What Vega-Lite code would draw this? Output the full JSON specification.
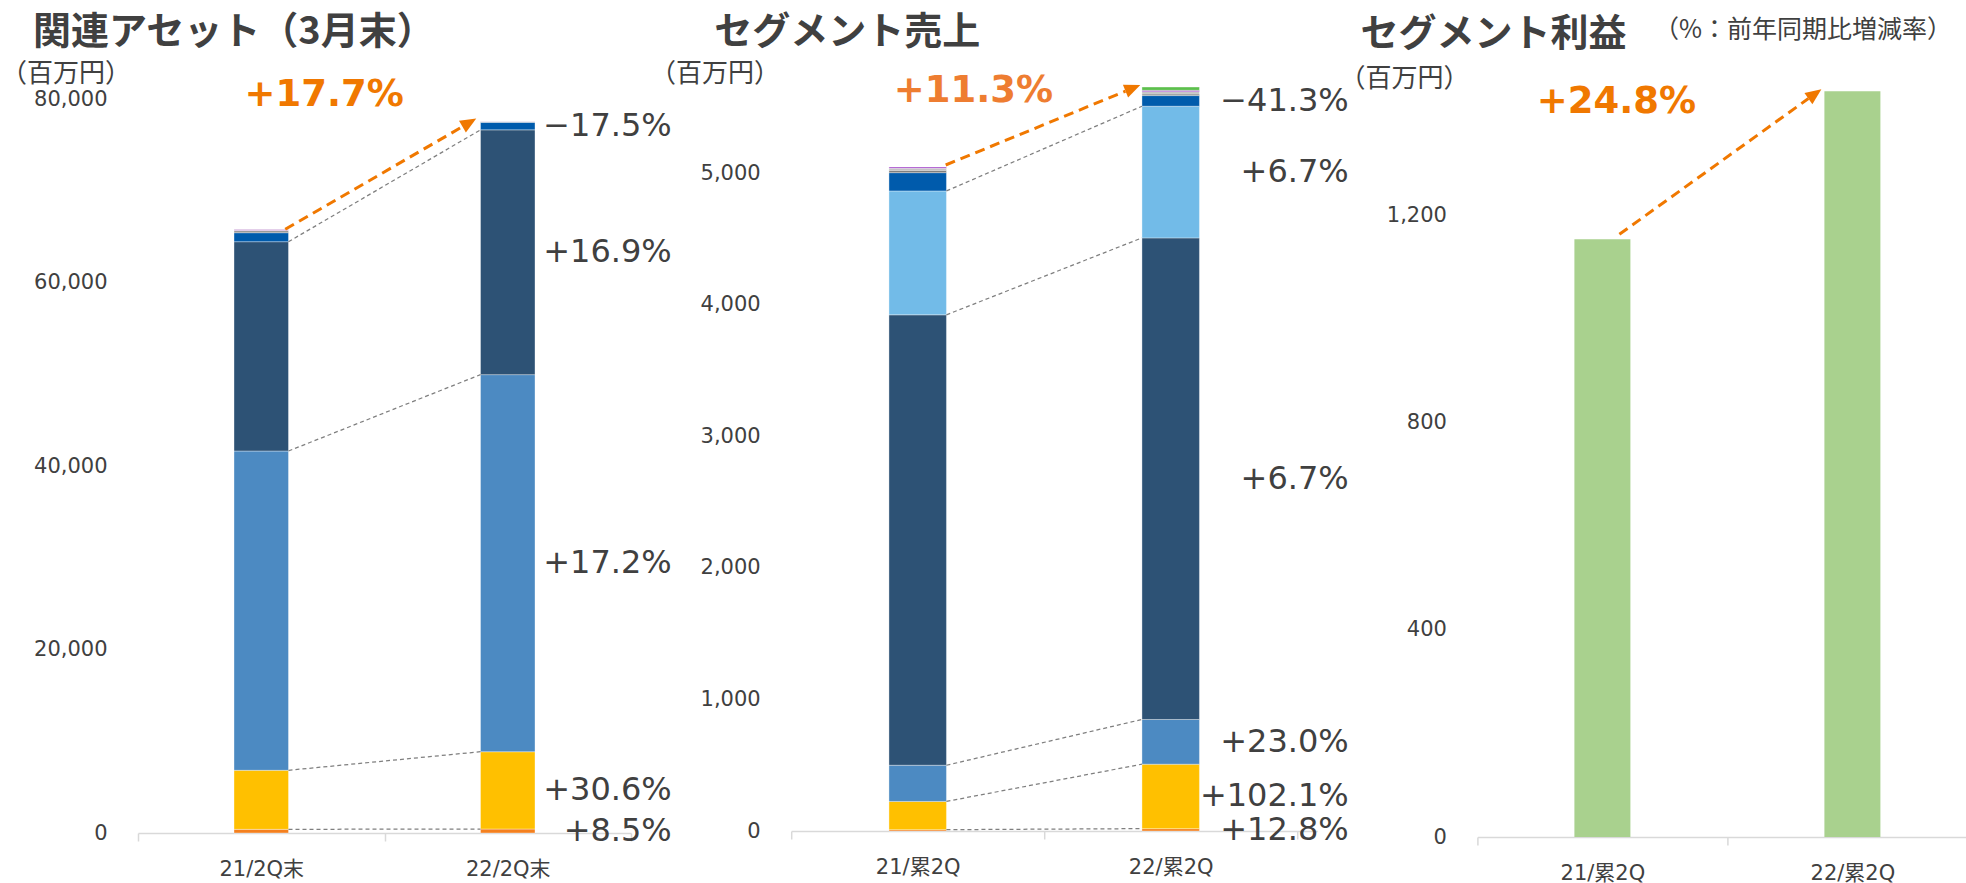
{
  "$schema": "https://vega.github.io/schema/vega-lite/v6.json",
  "background": "white",
  "padding": {"left": 0, "top": 14, "right": 0, "bottom": 0},
  "bounds": "flush",
  "spacing": 160.2,
  "resolve": {"scale": {"color": "independent"}},
  "config": {
    "view": {"stroke": null},
    "font": "Noto Sans CJK JP",
    "title": {"font": "Noto Sans CJK JP", "fontSize": 38, "fontWeight": "bold", "color": "#404040", "anchor": "start", "frame": "group", "offset": 8},
    "axis": {"grid": false, "labelFont": "DejaVu Sans, Noto Sans CJK JP", "labelFontSize": 21, "labelColor": "#404040", "titleFont": "Noto Sans CJK JP", "titleFontWeight": "normal", "titleColor": "#404040", "titleFontSize": 26},
    "axisX": {"domainColor": "#D9D9D9", "domainWidth": 1.5, "tickColor": "#D9D9D9", "tickWidth": 1.5, "tickSize": 8, "tickBand": "extent", "labelAngle": 0, "labelPadding": 17},
    "axisY": {"domain": false, "ticks": false, "labelPadding": 31, "titleAngle": 0, "titleAlign": "left", "titleBaseline": "middle"}
  },
  "hconcat": [
    {
      "width": 493,
      "height": 772,
      "title": {"text": "関連アセット（3月末）", "dx": -105},
      "data": {"values": [
        {"period": "21/2Q末", "segment": "seg01", "value": 400},
        {"period": "21/2Q末", "segment": "seg02", "value": 6434},
        {"period": "21/2Q末", "segment": "seg03", "value": 34801},
        {"period": "21/2Q末", "segment": "seg04", "value": 22812},
        {"period": "21/2Q末", "segment": "seg05", "value": 980},
        {"period": "21/2Q末", "segment": "seg06", "value": 220},
        {"period": "21/2Q末", "segment": "seg07", "value": 150},
        {"period": "22/2Q末", "segment": "seg01", "value": 434, "change": "+8.5%", "total_change": "+17.7%"},
        {"period": "22/2Q末", "segment": "seg02", "value": 8424, "change": "+30.6%"},
        {"period": "22/2Q末", "segment": "seg03", "value": 41100, "change": "+17.2%"},
        {"period": "22/2Q末", "segment": "seg04", "value": 26680, "change": "+16.9%"},
        {"period": "22/2Q末", "segment": "seg05", "value": 820, "change": "−17.5%"},
        {"period": "22/2Q末", "segment": "seg06", "value": 50},
        {"period": "22/2Q末", "segment": "seg07", "value": 40}
      ]},
      "transform": [{"stack": "value", "groupby": ["period"], "sort": [{"field": "segment", "order": "ascending"}], "as": ["lo", "hi"]}],
      "layer": [
        {
          "mark": {"type": "bar", "width": 54.5, "stroke": "#FFFFFF", "strokeWidth": 0.6, "strokeOpacity": 0.6},
          "encoding": {
            "x": {"field": "period", "type": "nominal", "title": null, "scale": {"paddingInner": 0, "paddingOuter": 0}},
            "y": {"field": "lo", "type": "quantitative", "title": "（百万円）", "scale": {"domain": [0, 84142], "nice": false}, "axis": {"values": [0, 20000, 40000, 60000, 80000], "format": ",d", "titleX": -137.5, "titleY": 12}},
            "y2": {"field": "hi"},
            "color": {"field": "segment", "type": "nominal", "legend": null, "scale": {"domain": ["seg01", "seg02", "seg03", "seg04", "seg05", "seg06", "seg07"], "range": ["#F4801F", "#FFC000", "#4C8AC2", "#2D5275", "#005BAC", "#8C8C8C", "#CDA6D9"]}}
          }
        },
        {
          "transform": [
            {"filter": {"field": "segment", "oneOf": ["seg01", "seg02", "seg03", "seg04"]}},
            {"window": [{"op": "lead", "field": "hi", "as": "hi2"}, {"op": "lead", "field": "period", "as": "period2"}], "groupby": ["segment"], "sort": [{"field": "period", "order": "ascending"}]},
            {"filter": "datum.period2 != null"}
          ],
          "mark": {"type": "rule", "color": "#7F7F7F", "strokeWidth": 1.25, "strokeDash": [4, 3], "xOffset": 27.25, "x2Offset": -27.25},
          "encoding": {
            "x": {"field": "period", "type": "nominal", "bandPosition": 0.5, "title": null},
            "x2": {"field": "period2", "bandPosition": 0.5},
            "y": {"field": "hi", "type": "quantitative", "title": "（百万円）", "scale": {"domain": [0, 84142], "nice": false}},
            "y2": {"field": "hi2"}
          }
        },
        {
          "transform": [
            {"filter": "isValid(datum.change)"},
            {"calculate": "(datum.lo + datum.hi) / 2", "as": "mid"}
          ],
          "mark": {"type": "text", "align": "right", "baseline": "middle", "dx": 164, "font": "DejaVu Sans", "fontSize": 32, "color": "#404040"},
          "encoding": {
            "x": {"field": "period", "type": "nominal", "title": null},
            "y": {"field": "mid", "type": "quantitative", "title": "（百万円）", "scale": {"domain": [0, 84142], "nice": false}},
            "text": {"field": "change"}
          }
        },
        {
          "transform": [
            {"aggregate": [{"op": "sum", "field": "value", "as": "total"}, {"op": "max", "field": "total_change", "as": "tc"}], "groupby": ["period"]},
            {"window": [{"op": "lead", "field": "total", "as": "total2"}, {"op": "lead", "field": "period", "as": "period2"}, {"op": "lead", "field": "tc", "as": "tc2"}], "sort": [{"field": "period", "order": "ascending"}]},
            {"filter": "datum.period2 != null"}
          ],
          "layer": [
            {
              "mark": {"type": "rule", "color": "#F07800", "strokeWidth": 3, "strokeDash": [10, 6], "xOffset": 24, "x2Offset": -45, "y2Offset": 5},
              "encoding": {
                "x": {"field": "period", "type": "nominal", "bandPosition": 0.5, "title": null},
                "x2": {"field": "period2", "bandPosition": 0.5},
                "y": {"field": "total", "type": "quantitative", "title": "（百万円）", "scale": {"domain": [0, 84142], "nice": false}},
                "y2": {"field": "total2"}
              }
            },
            {
              "mark": {"type": "point", "shape": "M0,0L-2,-0.85L-2,0.85Z", "filled": true, "size": 256, "angle": 329.6, "color": "#F07800", "opacity": 1, "xOffset": -31.5, "yOffset": -3},
              "encoding": {
                "x": {"field": "period2", "type": "nominal", "title": null},
                "y": {"field": "total2", "type": "quantitative", "title": "（百万円）", "scale": {"domain": [0, 84142], "nice": false}}
              }
            },
            {
              "mark": {"type": "text", "font": "DejaVu Sans", "fontWeight": "bold", "fontSize": 37, "color": "#F07800", "dx": 63, "dy": -26.7, "align": "center", "baseline": "middle"},
              "encoding": {
                "x": {"field": "period", "type": "nominal", "title": null},
                "y": {"field": "total2", "type": "quantitative", "title": "（百万円）", "scale": {"domain": [0, 84142], "nice": false}},
                "text": {"field": "tc2"}
              }
            }
          ]
        }
      ]
    },
    {
      "width": 526,
      "height": 770,
      "title": {"text": "セグメント売上", "dx": -77},
      "data": {"values": [
        {"period": "21/累2Q", "segment": "seg01", "value": 10},
        {"period": "21/累2Q", "segment": "seg02", "value": 215},
        {"period": "21/累2Q", "segment": "seg03", "value": 275},
        {"period": "21/累2Q", "segment": "seg04", "value": 3425},
        {"period": "21/累2Q", "segment": "seg05", "value": 942},
        {"period": "21/累2Q", "segment": "seg06", "value": 139},
        {"period": "21/累2Q", "segment": "seg07", "value": 18},
        {"period": "21/累2Q", "segment": "seg08", "value": 15},
        {"period": "21/累2Q", "segment": "seg09", "value": 10},
        {"period": "22/累2Q", "segment": "seg01", "value": 18, "change": "+12.8%", "total_change": "+11.3%"},
        {"period": "22/累2Q", "segment": "seg02", "value": 490, "change": "+102.1%"},
        {"period": "22/累2Q", "segment": "seg03", "value": 340, "change": "+23.0%"},
        {"period": "22/累2Q", "segment": "seg04", "value": 3662, "change": "+6.7%"},
        {"period": "22/累2Q", "segment": "seg05", "value": 1001, "change": "+6.7%"},
        {"period": "22/累2Q", "segment": "seg06", "value": 81, "change": "−41.3%"},
        {"period": "22/累2Q", "segment": "seg07", "value": 12},
        {"period": "22/累2Q", "segment": "seg08", "value": 18},
        {"period": "22/累2Q", "segment": "seg09", "value": 10},
        {"period": "22/累2Q", "segment": "seg10", "value": 25}
      ]},
      "transform": [{"stack": "value", "groupby": ["period"], "sort": [{"field": "segment", "order": "ascending"}], "as": ["lo", "hi"]}],
      "layer": [
        {
          "mark": {"type": "bar", "width": 57.5, "stroke": "#FFFFFF", "strokeWidth": 0.6, "strokeOpacity": 0.6},
          "encoding": {
            "x": {"field": "period", "type": "nominal", "title": null, "scale": {"paddingInner": 0, "paddingOuter": 0.0395, "align": 0}},
            "y": {"field": "lo", "type": "quantitative", "title": "（百万円）", "scale": {"domain": [0, 5855], "nice": false}, "axis": {"values": [0, 1000, 2000, 3000, 4000, 5000], "format": ",d", "titleX": -141.7, "titleY": 12}},
            "y2": {"field": "hi"},
            "color": {"field": "segment", "type": "nominal", "legend": null, "scale": {"domain": ["seg01", "seg02", "seg03", "seg04", "seg05", "seg06", "seg07", "seg08", "seg09", "seg10"], "range": ["#F4801F", "#FFC000", "#4C8AC2", "#2D5275", "#72BBE8", "#005BAC", "#7F7F7F", "#BFBFBF", "#A040C8", "#5CBF4C"]}}
          }
        },
        {
          "transform": [
            {"filter": {"field": "segment", "oneOf": ["seg01", "seg02", "seg03", "seg04", "seg05"]}},
            {"window": [{"op": "lead", "field": "hi", "as": "hi2"}, {"op": "lead", "field": "period", "as": "period2"}], "groupby": ["segment"], "sort": [{"field": "period", "order": "ascending"}]},
            {"filter": "datum.period2 != null"}
          ],
          "mark": {"type": "rule", "color": "#7F7F7F", "strokeWidth": 1.25, "strokeDash": [4, 3], "xOffset": 28.75, "x2Offset": -28.75},
          "encoding": {
            "x": {"field": "period", "type": "nominal", "bandPosition": 0.5, "title": null},
            "x2": {"field": "period2", "bandPosition": 0.5},
            "y": {"field": "hi", "type": "quantitative", "title": "（百万円）", "scale": {"domain": [0, 5855], "nice": false}},
            "y2": {"field": "hi2"}
          }
        },
        {
          "transform": [
            {"filter": "isValid(datum.change)"},
            {"calculate": "(datum.lo + datum.hi) / 2", "as": "mid"}
          ],
          "mark": {"type": "text", "align": "right", "baseline": "middle", "dx": 178, "font": "DejaVu Sans", "fontSize": 32, "color": "#404040"},
          "encoding": {
            "x": {"field": "period", "type": "nominal", "title": null},
            "y": {"field": "mid", "type": "quantitative", "title": "（百万円）", "scale": {"domain": [0, 5855], "nice": false}},
            "text": {"field": "change"}
          }
        },
        {
          "transform": [
            {"aggregate": [{"op": "sum", "field": "value", "as": "total"}, {"op": "max", "field": "total_change", "as": "tc"}], "groupby": ["period"]},
            {"window": [{"op": "lead", "field": "total", "as": "total2"}, {"op": "lead", "field": "period", "as": "period2"}, {"op": "lead", "field": "tc", "as": "tc2"}], "sort": [{"field": "period", "order": "ascending"}]},
            {"filter": "datum.period2 != null"}
          ],
          "layer": [
            {
              "mark": {"type": "rule", "color": "#F07800", "strokeWidth": 3, "strokeDash": [10, 6], "xOffset": 28, "yOffset": -2, "x2Offset": -45.2, "y2Offset": 4.1},
              "encoding": {
                "x": {"field": "period", "type": "nominal", "bandPosition": 0.5, "title": null},
                "x2": {"field": "period2", "bandPosition": 0.5},
                "y": {"field": "total", "type": "quantitative", "title": "（百万円）", "scale": {"domain": [0, 5855], "nice": false}},
                "y2": {"field": "total2"}
              }
            },
            {
              "mark": {"type": "point", "shape": "M0,0L-2,-0.85L-2,0.85Z", "filled": true, "size": 256, "angle": 337.7, "color": "#F07800", "opacity": 1, "xOffset": -30.4, "yOffset": -2},
              "encoding": {
                "x": {"field": "period2", "type": "nominal", "title": null},
                "y": {"field": "total2", "type": "quantitative", "title": "（百万円）", "scale": {"domain": [0, 5855], "nice": false}}
              }
            },
            {
              "mark": {"type": "text", "font": "DejaVu Sans", "fontWeight": "bold", "fontSize": 37, "color": "#EE7D31", "dx": 55.7, "dy": 4, "align": "center", "baseline": "middle"},
              "encoding": {
                "x": {"field": "period", "type": "nominal", "title": null},
                "y": {"field": "total2", "type": "quantitative", "title": "（百万円）", "scale": {"domain": [0, 5855], "nice": false}},
                "text": {"field": "tc2"}
              }
            }
          ]
        }
      ]
    },
    {
      "width": 500,
      "height": 776,
      "title": {"text": "セグメント利益", "dx": -117, "offset": -36.5},
      "data": {"values": [
        {"period": "21/累2Q", "value": 1155},
        {"period": "22/累2Q", "value": 1441, "total_change": "+24.8%"}
      ]},
      "layer": [
        {
          "mark": {"type": "bar", "width": 56, "color": "#A9D18E"},
          "encoding": {
            "x": {"field": "period", "type": "nominal", "title": "（%：前年同期比増減率）", "scale": {"paddingInner": 0, "paddingOuter": 0}, "axis": {"titleX": 176, "titleY": -808, "titleAlign": "left", "titleBaseline": "middle", "titleAngle": 0, "titleFontSize": 25}},
            "y": {"field": "value", "type": "quantitative", "title": "（百万円）", "scale": {"domain": [0, 1499.5], "nice": false}, "axis": {"values": [0, 400, 800, 1200], "format": ",d", "titleX": -138.5, "titleY": 17}}
          }
        },
        {
          "transform": [
            {"aggregate": [{"op": "sum", "field": "value", "as": "total"}, {"op": "max", "field": "total_change", "as": "tc"}], "groupby": ["period"]},
            {"window": [{"op": "lead", "field": "total", "as": "total2"}, {"op": "lead", "field": "period", "as": "period2"}, {"op": "lead", "field": "tc", "as": "tc2"}], "sort": [{"field": "period", "order": "ascending"}]},
            {"filter": "datum.period2 != null"}
          ],
          "layer": [
            {
              "mark": {"type": "rule", "color": "#F07800", "strokeWidth": 3, "strokeDash": [10, 6], "xOffset": 17, "yOffset": -5, "x2Offset": -44, "y2Offset": 7.3},
              "encoding": {
                "x": {"field": "period", "type": "nominal", "bandPosition": 0.5, "title": "（%：前年同期比増減率）"},
                "x2": {"field": "period2", "bandPosition": 0.5},
                "y": {"field": "total", "type": "quantitative", "title": "（百万円）", "scale": {"domain": [0, 1499.5], "nice": false}},
                "y2": {"field": "total2"}
              }
            },
            {
              "mark": {"type": "point", "shape": "M0,0L-2,-0.85L-2,0.85Z", "filled": true, "size": 256, "angle": 324.3, "color": "#F07800", "opacity": 1, "xOffset": -31, "yOffset": -2},
              "encoding": {
                "x": {"field": "period2", "type": "nominal", "title": "（%：前年同期比増減率）"},
                "y": {"field": "total2", "type": "quantitative", "title": "（百万円）", "scale": {"domain": [0, 1499.5], "nice": false}}
              }
            },
            {
              "mark": {"type": "text", "font": "DejaVu Sans", "fontWeight": "bold", "fontSize": 37, "color": "#F07800", "dx": 14, "dy": 10.5, "align": "center", "baseline": "middle"},
              "encoding": {
                "x": {"field": "period", "type": "nominal", "title": "（%：前年同期比増減率）"},
                "y": {"field": "total2", "type": "quantitative", "title": "（百万円）", "scale": {"domain": [0, 1499.5], "nice": false}},
                "text": {"field": "tc2"}
              }
            }
          ]
        }
      ]
    }
  ]
}
